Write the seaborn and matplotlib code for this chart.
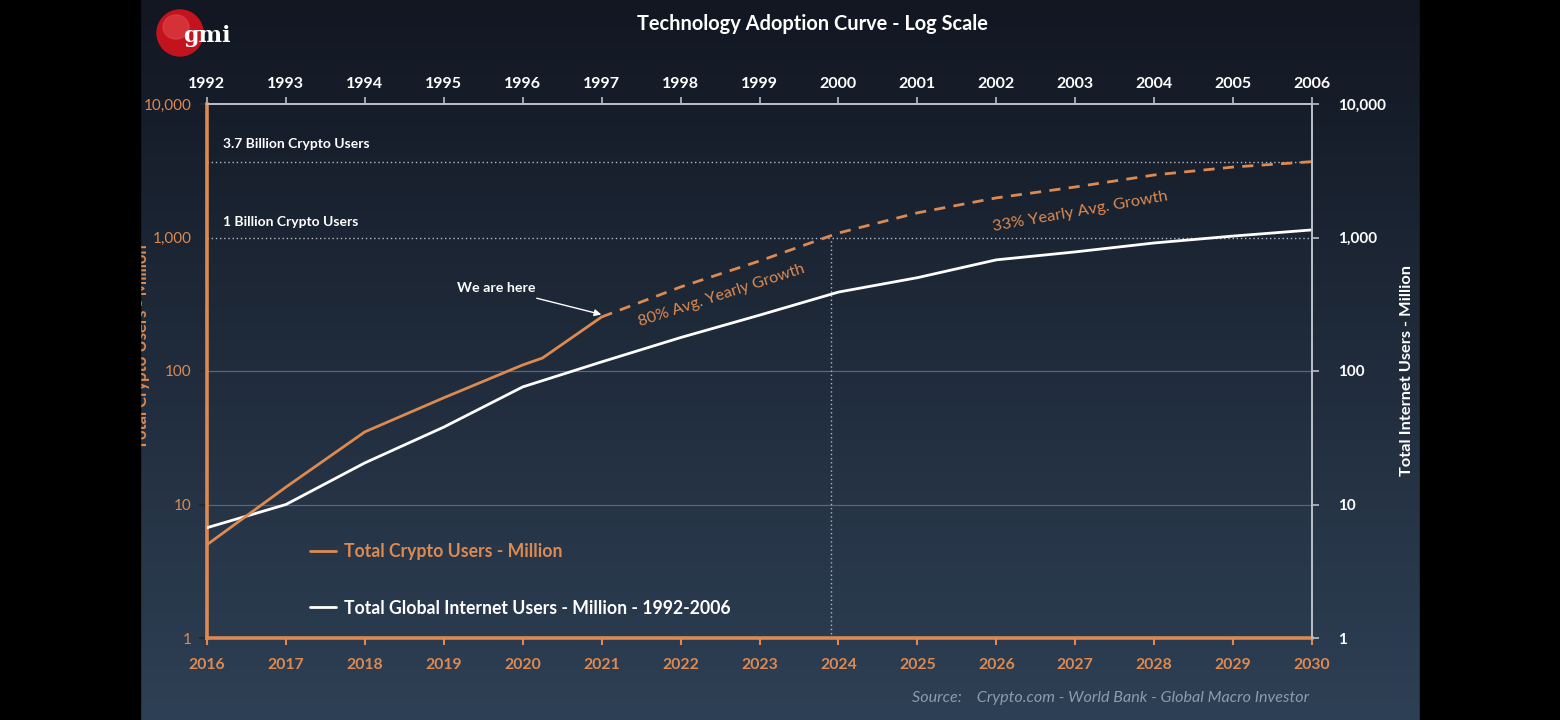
import matplotlib
matplotlib.use("Agg")
import matplotlib.pyplot as plt
import matplotlib.patches as mpatches
import matplotlib.ticker as mticker
import numpy as np
import pandas as pd
import seaborn as sns

# ---------------- data ----------------
crypto_years = [2016, 2017, 2018, 2019, 2020, 2020.25, 2021]
crypto_users = [5.0, 13.5, 35, 63, 111, 125, 254]

proj_years = [2021, 2022, 2023, 2024, 2025, 2026, 2027, 2028, 2029, 2030]
proj_users = [254, 426, 667, 1080, 1530, 1980, 2390, 2940, 3370, 3700]

internet_years = [2016, 2017, 2018, 2019, 2020, 2021, 2022, 2023, 2024,
                  2025, 2026, 2027, 2028, 2029, 2030]
internet_users = [6.7, 10, 20.5, 38, 76, 117, 178, 262, 390,
                  500, 680, 780, 910, 1025, 1140]

bottom_years = list(range(2016, 2031))
top_years = list(range(1992, 2007))
y_ticks = [1, 10, 100, 1000, 10000]

# ---------------- style ----------------
sns.set_theme(style="dark")
plt.rcParams['font.family'] = ['Lato', 'DejaVu Sans']

ORANGE = '#dc8a52'
WHITE = '#ffffff'
GREY_AX = '#b9bfc8'

fig = plt.figure(figsize=(15.6, 7.2), dpi=100, facecolor='black')

# gradient background panel
bg = fig.add_axes([140 / 1560, 0, 1280 / 1560, 1], zorder=-5)
grad = np.linspace(0, 1, 256).reshape(-1, 1)
top_c = np.array([0x12, 0x17, 0x22]) / 255
bot_c = np.array([0x2e, 0x40, 0x55]) / 255
img = top_c[None, None, :] * (1 - grad[:, :, None]) + bot_c[None, None, :] * grad[:, :, None]
bg.imshow(img, aspect='auto', extent=[0, 1, 0, 1], origin='upper')
bg.set_axis_off()

ax = fig.add_axes([207 / 1560, (720 - 638) / 720, 1105 / 1560, 534 / 720])
ax.set_facecolor('none')

df_c = pd.DataFrame({'year': crypto_years, 'users': crypto_users})
df_p = pd.DataFrame({'year': proj_years, 'users': proj_users})
df_i = pd.DataFrame({'year': internet_years, 'users': internet_users})

sns.lineplot(data=df_i, x='year', y='users', ax=ax, color=WHITE, lw=2.0,
             label='Total Global Internet Users - Million - 1992-2006', zorder=5)
sns.lineplot(data=df_c, x='year', y='users', ax=ax, color=ORANGE, lw=2.0,
             label='Total Crypto Users - Million', zorder=6)
sns.lineplot(data=df_p, x='year', y='users', ax=ax, color=ORANGE, lw=2.0,
             dashes=False, zorder=6)
ax.lines[-1].set_linestyle((0, (4, 3)))

ax.set_yscale('log')
ax.set_xlim(2016, 2030)
ax.set_ylim(1, 10000)

# grid-like reference lines
for v in [10, 100]:
    ax.axhline(v, color='#56667c', lw=0.9, zorder=1)
for v in [1000, 3700]:
    ax.axhline(v, color='#b3b9c3', lw=1.0, ls=(0, (1, 2)), zorder=2)
ax.vlines(2023.9, 1, 1000, color='#b3b9c3', lw=1.0, ls=(0, (1, 2)), zorder=2)

# spines
for s in ['left', 'bottom']:
    ax.spines[s].set_color(ORANGE)
    ax.spines[s].set_linewidth(2.6)
for s in ['top', 'right']:
    ax.spines[s].set_color(GREY_AX)
    ax.spines[s].set_linewidth(1.3)

ax.set_xticks(bottom_years)
ax.set_xticklabels([str(y) for y in bottom_years])
ax.tick_params(axis='x', which='major', bottom=True, length=5, width=1.5,
               color=ORANGE, labelcolor=ORANGE, labelsize=11.3, pad=9.5)
for t in ax.get_xticklabels():
    t.set_fontweight('bold')
ax.yaxis.set_major_locator(mticker.FixedLocator(y_ticks))
ax.yaxis.set_minor_locator(mticker.NullLocator())
ax.yaxis.set_major_formatter(mticker.FuncFormatter(lambda v, p: f"{v:,.0f}"))
ax.tick_params(axis='y', which='major', left=False, labelcolor=ORANGE,
               labelsize=11, pad=5)
ax.set_xlabel('')
ax.set_ylabel('Total Crypto Users - Million', color=ORANGE, fontsize=12,
              fontweight='bold')
ax.yaxis.set_label_coords(-0.0515, 0.545)
ax.grid(False)

# top axis (1992-2006)
sec = ax.secondary_xaxis('top', functions=(lambda x: x - 24, lambda x: x + 24))
sec.set_xticks(top_years)
sec.set_xticklabels([str(y) for y in top_years])
sec.tick_params(axis='x', length=5, width=1.2, color=GREY_AX, labelcolor=WHITE,
                labelsize=11.5, pad=4.5)
for t in sec.get_xticklabels():
    t.set_fontweight('bold')
sec.spines['top'].set_color(GREY_AX)
sec.spines['top'].set_linewidth(1.3)

# right axis
ax2 = ax.twinx()
ax2.set_yscale('log')
ax2.set_ylim(1, 10000)
ax2.yaxis.set_major_locator(mticker.FixedLocator(y_ticks))
ax2.yaxis.set_minor_locator(mticker.NullLocator())
ax2.yaxis.set_major_formatter(mticker.FuncFormatter(lambda v, p: f"{v:,.0f}"))
ax2.tick_params(axis='y', right=True, length=5, width=1.2, color=GREY_AX,
                labelcolor=WHITE, labelsize=11, pad=14)
for t in ax2.get_yticklabels():
    t.set_fontweight('bold')
for s in ['left', 'bottom', 'top']:
    ax2.spines[s].set_visible(False)
ax2.spines['right'].set_color(GREY_AX)
ax2.spines['right'].set_linewidth(1.3)
ax2.set_ylabel('Total Internet Users - Million', color=WHITE, fontsize=11.8,
               fontweight='bold', labelpad=10)
ax2.grid(False)
ax2.set_facecolor('none')

# annotations
ax.text(2016.2, 5000, '3.7 Billion Crypto Users', color=WHITE, fontsize=10,
        fontweight='bold', va='center', ha='left')
ax.text(2016.2, 1300, '1 Billion Crypto Users', color=WHITE, fontsize=10,
        fontweight='bold', va='center', ha='left')
ax.annotate('We are here', xy=(2021.03, 262), xytext=(2019.66, 419),
            color=WHITE, fontsize=10.3, fontweight='bold', ha='center', va='center',
            arrowprops=dict(arrowstyle='-|>', color=WHITE, lw=1.0,
                            shrinkA=3, shrinkB=2, mutation_scale=10), zorder=8)
ax.text(2022.52, 371, '80% Avg. Yearly Growth', color=ORANGE, fontsize=11.6,
        rotation=18, ha='center', va='center', rotation_mode='anchor')
ax.text(2027.06, 1553, '33% Yearly Avg. Growth', color=ORANGE, fontsize=11.8,
        rotation=10, ha='center', va='center', rotation_mode='anchor')

# legend
h, l = ax.get_legend_handles_labels()
order = [l.index('Total Crypto Users - Million'),
         l.index('Total Global Internet Users - Million - 1992-2006')]
leg = ax.legend([h[i] for i in order], [l[i] for i in order], loc='upper left',
                bbox_to_anchor=(0.093, 0.178), frameon=False,
                prop={'size': 12.7, 'weight': 'bold'},
                handlelength=1.5, handletextpad=0.45, labelspacing=2.25,
                borderpad=0, borderaxespad=0)
leg.get_texts()[0].set_color(ORANGE)
leg.get_texts()[1].set_color(WHITE)
leg.legend_handles[0].set_linestyle('-')

# title, source, logo
fig.text(812 / 1560, 1 - 24 / 720, 'Technology Adoption Curve - Log Scale',
         color=WHITE, fontsize=14.4, fontweight='bold', ha='center', va='center')
fig.text(912 / 1560, 1 - 698 / 720,
         'Source:    Crypto.com - World Bank - Global Macro Investor',
         color='#8b9bb0', fontsize=11.6, style='italic', ha='left', va='center')

logo = mpatches.Ellipse((180 / 1560, 1 - 33 / 720), 46 / 1560, 46 / 720,
                        transform=fig.transFigure, color='#c3141d', zorder=3)
fig.add_artist(logo)
hl = mpatches.Ellipse((176 / 1560, 1 - 27 / 720), 26 / 1560, 24 / 720,
                      transform=fig.transFigure, color='#e2454b', alpha=0.6, zorder=3)
fig.add_artist(hl)
fig.text(207 / 1560, 1 - 36 / 720, 'gmi', color=WHITE, fontsize=16,
         fontweight='bold', family='DejaVu Serif', ha='center', va='center', zorder=4)

# black side bars (clip anything that spills)
fig.add_artist(mpatches.Rectangle((0, 0), 140 / 1560, 1, transform=fig.transFigure,
                                  color='black', zorder=20))
fig.add_artist(mpatches.Rectangle((1420 / 1560, 0), 140 / 1560, 1,
                                  transform=fig.transFigure, color='black', zorder=20))

fig.savefig('out.png', dpi=100, facecolor='black')
